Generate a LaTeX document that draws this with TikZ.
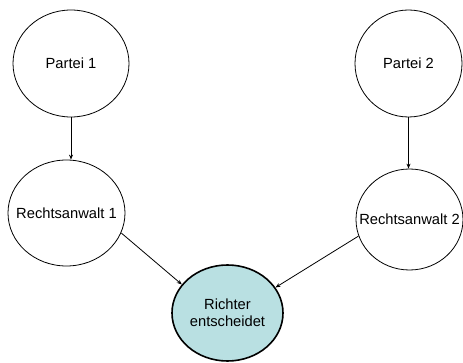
\documentclass[tikz,border=0pt]{standalone}
\usepackage{fontspec}
\setmainfont{Liberation Sans}
\usetikzlibrary{arrows.meta,shapes.geometric}
\definecolor{richterfill}{HTML}{B9E0E2}
\begin{document}
\begin{tikzpicture}[x=1pt,y=-1pt,
  txt/.style={font=\fontsize{14.7}{17}\selectfont, align=center},
  ell/.style={draw=black, line width=0.8pt, ellipse, inner sep=0pt,
    label={[txt]center:#1}},
  conn/.style={-{Stealth[length=5pt,width=4pt]}, line width=0.8pt}]
\useasboundingbox (0,0) rectangle (463,363);
\node[ell=Partei 1, minimum width=116pt, minimum height=107pt] (p1) at (71,63.5) {};
\node[ell=Partei 2, minimum width=107pt, minimum height=107pt] (p2) at (408.5,63.5) {};
\node[ell=Rechtsanwalt 1, minimum width=117pt, minimum height=106pt] (r1) at (66.5,213) {};
\node[ell=Rechtsanwalt 2, minimum width=107pt, minimum height=101pt] (r2) at (409.5,219.5) {};
\node[ell={Richter\\entscheidet}, line width=1.6pt, fill=richterfill,
  minimum width=111pt, minimum height=96pt] (ri) at (227.5,313) {};
\draw[conn] (p1.south) -- (r1.north -| p1.south);
\draw[conn] (p2.south) -- (r2.north -| p2.south);
\draw[conn] (r1.-20) -- (ri.148);
\draw[conn] (r2.198) -- (ri.28);
\end{tikzpicture}
\end{document}
